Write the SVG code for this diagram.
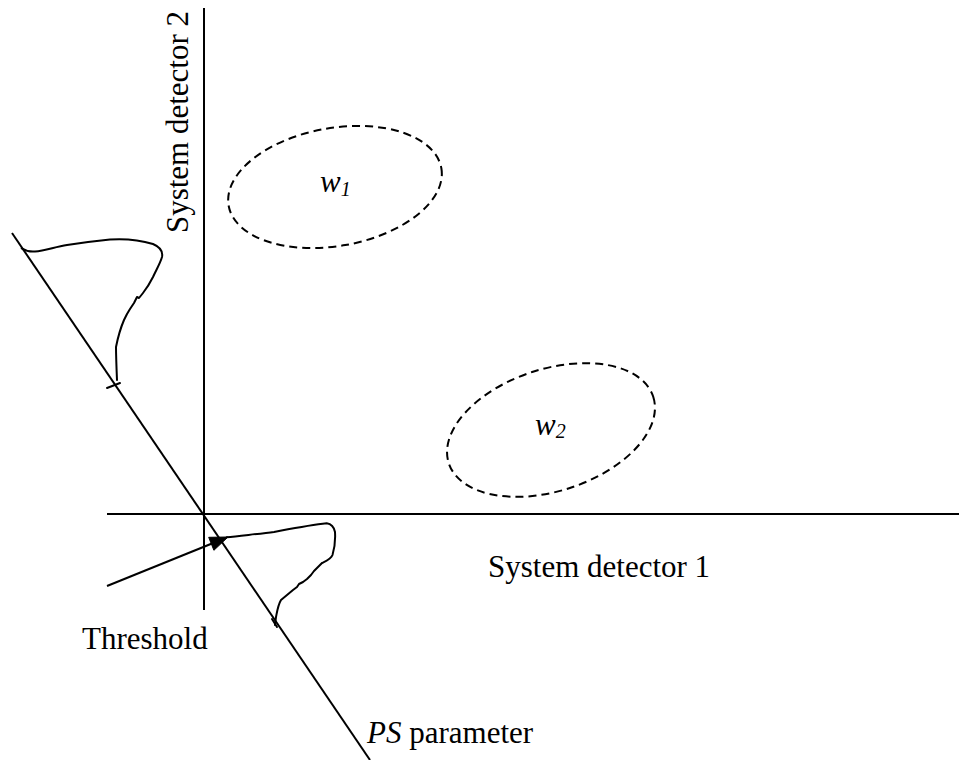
<svg xmlns="http://www.w3.org/2000/svg" width="959" height="760" viewBox="0 0 959 760">
<style>
.ax{stroke:#000;stroke-width:2;fill:none}
.cv{stroke:#000;stroke-width:2;fill:none;stroke-linejoin:round;stroke-linecap:round}
.cl{stroke:#000;stroke-width:2;fill:none;stroke-dasharray:8 5}
.t{font-family:"Liberation Serif","Times New Roman",serif;font-size:31px;fill:#000}
.i{font-style:italic}
</style>
<rect width="959" height="760" fill="#fff"/>
<g id="connectors">
<line class="ax" x1="204" y1="8" x2="204" y2="610"/>
<line class="ax" x1="107" y1="514" x2="959" y2="514"/>
<line class="ax" x1="12" y1="233" x2="370" y2="760"/>
<line class="ax" x1="107" y1="586" x2="212" y2="543.5"/>
<path d="M228,537 L208.7,537.3 L213.9,550.3 z" fill="#000" stroke="#000" stroke-width="1" stroke-linejoin="miter"/>
</g>
<g id="curve-upper">
<path class="cv" d="M21.7,248.3 C26,251 30,252 35,251.5 C45,250.5 55,247 67,245 C80,243 95,241 110,239.5 C125,238.5 140,240 153,244 C160,247 163,252 162,257 C160,264 156,270 153,277 C150,283 147,288 143,293 L139,298 L137,297 L134,303 L130,309 L127,314 L124,320 C121,327 118,337 116,347 C116,355 116.5,368 117,380"/>
<line class="cv" x1="107" y1="388" x2="120" y2="383"/>
</g>
<g id="curve-lower">
<path class="cv" d="M226.7,537.3 C240,535.5 260,534 274,532 C290,529 310,525 326.7,523.3 C331,524 334,527 335,532 C335.5,540 334,550 332.5,555 C331,559 326,561 322,563 L319,566 L317,568 L314,571 L311,575 L307,579 L303,582 L299,584 L297,587 L293,590 L287,595 L281,600 C278,605 277,612 276,617 L275,625"/>
<line class="cv" x1="272" y1="619" x2="277" y2="627"/>
</g>
<g id="cluster-w1">
<ellipse class="cl" cx="335" cy="187" rx="108" ry="59" transform="rotate(-10 335 187)"/>
<text class="t i" x="320" y="192">w<tspan font-size="20" dy="4">1</tspan></text>
</g>
<g id="cluster-w2">
<ellipse class="cl" cx="551" cy="430" rx="107.5" ry="61" transform="rotate(-18 551 430)"/>
<text class="t i" x="535" y="435">w<tspan font-size="20" dy="3">2</tspan></text>
</g>
<g id="label-sd2">
<text class="t" text-anchor="middle" transform="translate(188,122) rotate(-90)">System detector 2</text>
</g>
<g id="label-sd1">
<text class="t" x="488" y="577">System detector 1</text>
</g>
<g id="label-threshold">
<text class="t" x="82" y="649">Threshold</text>
</g>
<g id="label-ps">
<text class="t" x="367" y="743"><tspan class="i">PS</tspan> parameter</text>
</g>
</svg>
